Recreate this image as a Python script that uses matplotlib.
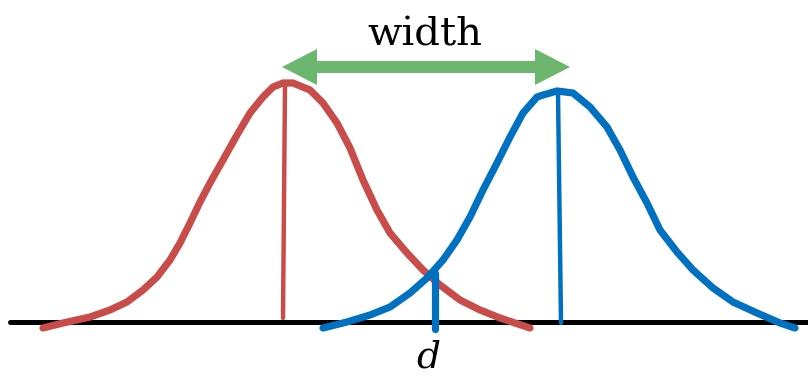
import matplotlib.pyplot as plt

# values, in pixel units (x right, y down)
red_x = [43, 63, 90, 110, 127, 143, 157, 170, 180, 190, 200, 210, 223, 237, 250, 263, 273, 283,
         293, 310, 323, 337, 350, 363, 377, 390, 407, 423, 440, 460, 480, 500, 530]
red_y = [328, 323, 317, 310, 302, 290, 277, 260, 243, 223, 202, 183, 160, 135, 113, 97, 87, 83,
         83, 90, 103, 123, 148, 180, 210, 233, 253, 270, 285, 300, 310, 318, 328]

blue_x = [323, 347, 370, 390, 410, 427, 443, 457, 470, 483, 497, 510, 523, 537, 543, 557,
          573, 590, 607, 620, 633, 647, 660, 677, 693, 713, 733, 757, 780, 795]
blue_y = [328, 322, 315, 307, 293, 278, 260, 240, 217, 190, 163, 137, 113, 97, 95, 91,
          93, 107, 127, 150, 177, 203, 230, 252, 270, 288, 302, 313, 323, 328]

red_mean = [283, 285]      # x at bottom, x at top
red_mean_y = [318, 85]
blue_mean = [561, 558]
blue_mean_y = [323, 93]
d_x = 435
d_y = [273, 329]

baseline_x = [10, 808]
baseline_y = 322

arrow_x = [282, 570]
arrow_y = 67

RED = '#C84C4A'
BLUE = '#0070C0'
GREEN = '#6CB76D'

fig = plt.figure(figsize=(8.08, 3.76), dpi=100)
ax = fig.add_axes([0, 0, 1, 1])
ax.set_xlim(0, 808)
ax.set_ylim(376, 0)
ax.axis('off')

ax.plot(baseline_x, [baseline_y, baseline_y], color='black', lw=3.6, solid_capstyle='round', zorder=1)

ax.plot(red_x, red_y, color=RED, lw=5.2, solid_capstyle='round', solid_joinstyle='round', zorder=2)
ax.plot(red_mean, red_mean_y, color=RED, lw=3.2, solid_capstyle='round', zorder=2)

ax.plot(blue_x, blue_y, color=BLUE, lw=5.2, solid_capstyle='round', solid_joinstyle='round', zorder=3)
ax.plot(blue_mean, blue_mean_y, color=BLUE, lw=3.2, solid_capstyle='round', zorder=3)
ax.plot([d_x, d_x], d_y, color=BLUE, lw=5.2, solid_capstyle='round', zorder=3)

# double arrow: two single arrows from the middle
mid = (arrow_x[0] + arrow_x[1]) / 2
for end in arrow_x:
    ax.arrow(mid, arrow_y, end - mid, 0, width=12, head_width=36, head_length=35,
             length_includes_head=True, color=GREEN, lw=0, zorder=4)

ax.text(425, 45, 'width', ha='center', va='baseline', fontsize=29,
        family='DejaVu Serif', color='black')
ax.text(428, 368, 'd', ha='center', va='baseline', fontsize=27,
        family='DejaVu Serif', style='italic', color='black')

fig.savefig('out.png', dpi=100)
